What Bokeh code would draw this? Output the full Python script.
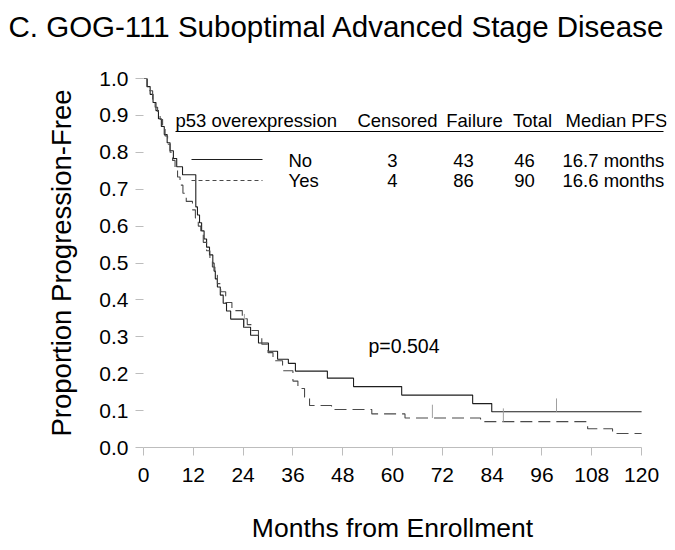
import numpy as np
from bokeh.plotting import figure
from bokeh.layouts import column
from bokeh.models import Range1d, Label, FixedTicker, PrintfTickFormatter
from bokeh.embed import file_html
from bokeh.resources import INLINE

# ---------------- data ----------------
title_text = "C. GOG-111 Suboptimal Advanced Stage Disease"
x_title = "Months from Enrollment"
y_title = "Proportion Progression-Free"
x_ticks = [0, 12, 24, 36, 48, 60, 72, 84, 96, 108, 120]
y_ticks = [0.0, 0.1, 0.2, 0.3, 0.4, 0.5, 0.6, 0.7, 0.8, 0.9, 1.0]
follow_up_end = 120
p_value_text = "p=0.504"

# p53 overexpression = No (solid)
no_time = [0, 0.9, 1.6, 2.3, 3.0, 3.6, 4.3, 5.0, 5.7, 6.4, 7.2, 8.0, 9.4,
           12.6, 13.0, 13.5, 14.0, 14.6, 15.2, 15.9, 16.7, 17.0, 17.3, 17.8,
           18.5, 19.2, 20.0, 21.0, 24.1, 25.8, 27.7, 30.1, 32.3, 34.9, 36.6,
           44.3, 50.6, 62.2, 79.3, 83.9]
no_surv = [1.0, 0.978, 0.957, 0.935, 0.913, 0.891, 0.870, 0.848, 0.826, 0.804,
           0.783, 0.761, 0.739, 0.652, 0.630, 0.609, 0.587, 0.565, 0.543,
           0.522, 0.500, 0.478, 0.457, 0.435, 0.413, 0.391, 0.370, 0.348,
           0.326, 0.304, 0.283, 0.261, 0.239, 0.228, 0.207, 0.188, 0.165,
           0.142, 0.119, 0.097]
no_censor_time = [24.3, 99.5]
no_censor_surv = [0.326, 0.097]

# p53 overexpression = Yes (dashed)
yes_time = [0, 0.8, 1.5, 2.2, 2.8, 3.4, 4.0, 4.6, 5.2, 5.8, 6.4, 7.0, 7.6,
            8.2, 8.8, 9.5, 10.3, 11.8, 12.5, 13.2, 13.8, 14.4, 15.2, 16.0,
            16.6, 17.2, 17.8, 18.6, 19.8, 21.3, 23.8, 25.0, 26.0, 27.7, 28.5,
            30.0, 31.2, 33.5, 36.0, 37.2, 38.8, 40.0, 45.3, 55.0, 63.0, 81.2,
            107.0, 113.0]
yes_surv = [1.0, 0.978, 0.967, 0.944, 0.922, 0.911, 0.889, 0.867, 0.844, 0.822,
            0.800, 0.778, 0.756, 0.733, 0.711, 0.689, 0.667, 0.644, 0.622,
            0.600, 0.578, 0.556, 0.533, 0.511, 0.489, 0.467, 0.444, 0.422,
            0.393, 0.371, 0.349, 0.333, 0.317, 0.300, 0.280, 0.257, 0.235,
            0.208, 0.180, 0.160, 0.136, 0.114, 0.103, 0.091, 0.080, 0.070,
            0.051, 0.038]
yes_censor_time = [69.6, 86.7]
yes_censor_surv = [0.080, 0.070]

# legend table
table_header = ["p53 overexpression", "Censored", "Failure", "Total", "Median PFS"]
groups = ["No", "Yes"]
n_censored = [3, 4]
n_failure = [43, 86]
n_total = [46, 90]
median_pfs = ["16.7 months", "16.6 months"]

# ---------------- layout constants ----------------
FONT = "Liberation Sans"
W = 672
TOP_H = 44          # title strip
BOT_H = 55          # x-axis title strip
MAIN_H = 449
ML, MR, MT, MB = 143, 6, 34, 46
X_END = 126.0


def no_align(f):
    try:
        f.frame_align = False
    except AttributeError:
        pass


def text_strip(height, text, x, y_mid, size, align):
    f = figure(width=W, height=height, output_backend="svg",
               toolbar_location=None, x_range=Range1d(0, W),
               y_range=Range1d(0, height), x_axis_type=None,
               y_axis_type=None, min_border=0)
    no_align(f)
    f.outline_line_color = None
    f.xgrid.grid_line_color = None
    f.ygrid.grid_line_color = None
    f.add_layout(Label(x=x, y=height - y_mid, text=text, text_font=FONT,
                       text_font_size=size, text_align=align,
                       text_baseline="middle", text_color="black"))
    return f


# title strip: text starts 8px from the left, centre 26px from the top
top = text_strip(TOP_H, title_text, 8, 26, "29.5px", "left")

# ---------------- main plot ----------------
p = figure(width=W, height=MAIN_H, output_backend="svg", toolbar_location=None,
           x_range=Range1d(0, X_END), y_range=Range1d(0, 1.0),
           min_border_left=ML, min_border_right=MR, min_border_top=MT,
           min_border_bottom=MB)
no_align(p)
p.outline_line_color = None
p.xgrid.grid_line_color = None
p.ygrid.grid_line_color = None
p.background_fill_color = "white"
p.border_fill_color = "white"

frame_w = W - ML - MR
frame_h = MAIN_H - MT - MB
FRAME_TOP_PAGE = TOP_H + MT


def dx(px):
    # page pixel -> data x
    return (px - ML) / frame_w * X_END


def dy(py):
    return 1.0 - (py - FRAME_TOP_PAGE) / frame_h


xa = p.xaxis[0]
xa.ticker = FixedTicker(ticks=x_ticks)
xa.bounds = (0, 120)
xa.axis_line_color = "#bdbdbd"
xa.major_tick_line_color = "#bdbdbd"
xa.major_tick_out = 8
xa.major_tick_in = 0
xa.minor_tick_line_color = None
xa.major_label_text_font = FONT
xa.major_label_text_font_size = "21px"
xa.major_label_text_color = "black"
xa.major_label_standoff = 12

ya = p.yaxis[0]
ya.ticker = FixedTicker(ticks=y_ticks)
ya.formatter = PrintfTickFormatter(format="%.1f")
ya.axis_line_color = None
ya.major_tick_line_color = "#bdbdbd"
ya.major_tick_out = 8
ya.major_tick_in = 0
ya.minor_tick_line_color = None
ya.major_label_text_font = FONT
ya.major_label_text_font_size = "21px"
ya.major_label_text_color = "black"
ya.major_label_standoff = 7
ya.axis_label = y_title
ya.axis_label_text_font = FONT
ya.axis_label_text_font_size = "27.5px"
ya.axis_label_text_font_style = "normal"
ya.axis_label_text_color = "black"
ya.axis_label_standoff = 19


def step_xy(times, surv, end):
    return list(times) + [end], list(surv) + [surv[-1]]


xs, ys = step_xy(no_time, no_surv, follow_up_end)
p.step(xs, ys, mode="after", line_color="#1e1e1e", line_width=1.1)
xs, ys = step_xy(yes_time, yes_surv, follow_up_end)
p.step(xs, ys, mode="after", line_color="#4a4a4a", line_width=1.1,
       line_dash="12 6")

# censor marks (small vertical ticks rising from the curve)
tick_h = 0.036
p.segment(x0=no_censor_time, y0=no_censor_surv, x1=no_censor_time,
          y1=[s + tick_h for s in no_censor_surv], line_color="#a0a0a0",
          line_width=1)
p.segment(x0=yes_censor_time, y0=yes_censor_surv, x1=yes_censor_time,
          y1=[s + tick_h for s in yes_censor_surv], line_color="#a0a0a0",
          line_width=1)


def add_label(x, y, text, size, align="left"):
    p.add_layout(Label(x=x, y=y, text=text, text_font=FONT,
                       text_font_size=size, text_align=align,
                       text_baseline="middle", text_color="black"))


# legend table
TS = "18.5px"
hdr_mid = dy(120)
add_label(dx(175), hdr_mid, table_header[0], TS)
add_label(dx(397), hdr_mid, table_header[1], TS, "center")
add_label(dx(474), hdr_mid, table_header[2], TS, "center")
add_label(dx(532), hdr_mid, table_header[3], TS, "center")
add_label(dx(565), hdr_mid, table_header[4], TS)
p.segment(x0=[dx(175)], y0=[dy(131)], x1=[dx(663)], y1=[dy(131)],
          line_color="black", line_width=1)

row_mid = [dy(160), dy(180)]
row_line = [dy(159), dy(180)]
row_dash = [None, "4 3"]
for i, g in enumerate(groups):
    if row_dash[i] is None:
        p.segment(x0=[dx(191)], y0=[row_line[i]], x1=[dx(262)], y1=[row_line[i]],
                  line_color="#1e1e1e", line_width=1.1)
    else:
        p.segment(x0=[dx(191)], y0=[row_line[i]], x1=[dx(262)], y1=[row_line[i]],
                  line_color="#4a4a4a", line_width=1.1, line_dash=row_dash[i])
    add_label(dx(288), row_mid[i], g, TS)
    add_label(dx(392), row_mid[i], str(n_censored[i]), TS, "center")
    add_label(dx(463), row_mid[i], str(n_failure[i]), TS, "center")
    add_label(dx(524), row_mid[i], str(n_total[i]), TS, "center")
    add_label(dx(562), row_mid[i], median_pfs[i], TS)

# p-value
add_label(dx(368), dy(345), p_value_text, "19.5px")

# x-axis title strip, centred under the 0-120 axis span (page x 392, y 527)
bottom = text_strip(BOT_H, x_title, 392, 527 - (TOP_H + MAIN_H), "26.5px",
                    "center")

layout = column(top, p, bottom, spacing=0)
open("out.html", "w").write(file_html(layout, INLINE))
